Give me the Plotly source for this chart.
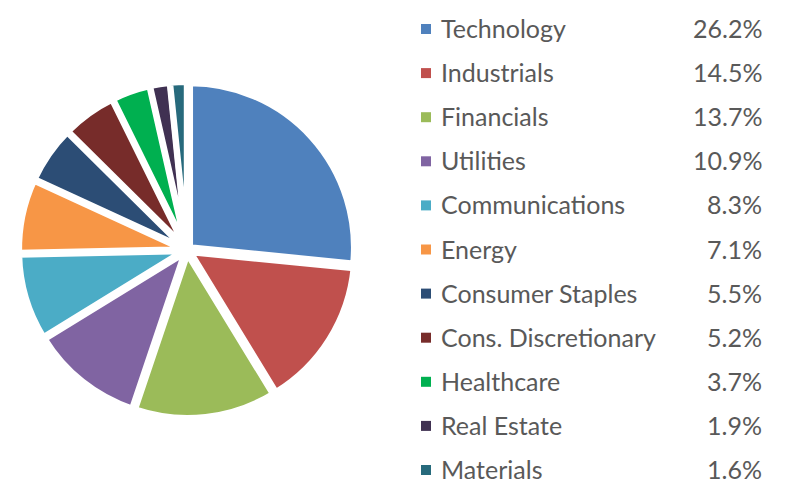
import plotly.graph_objects as go

sectors = ["Technology", "Industrials", "Financials", "Utilities", "Communications",
           "Energy", "Consumer Staples", "Cons. Discretionary", "Healthcare",
           "Real Estate", "Materials"]
weights = [26.2, 14.5, 13.7, 10.9, 8.3, 7.1, 5.5, 5.2, 3.7, 1.9, 1.6]
colors = ["#4F81BD", "#C0504D", "#9BBB59", "#8064A2", "#4BACC6", "#F79646",
          "#2C4D75", "#772C2A", "#00B050", "#403152", "#276A7C"]

W, H = 785, 500
fig = go.Figure(go.Pie(
    labels=sectors, values=weights, sort=False, direction="clockwise", rotation=0,
    marker=dict(colors=colors, line=dict(width=6, color="white")),
    pull=[0.025] * len(weights), textinfo="none", hoverinfo="label+percent",
    domain=dict(x=[15 / W, 359 / W], y=[1 - 418 / H, 1 - 82 / H]),
    showlegend=False,
))

font = dict(family="Lato, Carlito, Calibri, sans-serif", size=25, color="#595959")
row0, step = 29, 44.1
annotations = []
shapes = []
for i, (name, val, col) in enumerate(zip(sectors, weights, colors)):
    yc = row0 + i * step
    shapes.append(dict(type="rect", xref="paper", yref="paper",
                       x0=421 / W, x1=431 / W, y0=1 - (yc + 5) / H, y1=1 - (yc - 5) / H,
                       fillcolor=col, line=dict(width=0)))
    annotations.append(dict(x=439 / W, y=1 - (yc - 1) / H, xref="paper", yref="paper",
                            text=name, showarrow=False, xanchor="left", yanchor="middle",
                            font=font))
    annotations.append(dict(x=764 / W, y=1 - (yc - 1) / H, xref="paper", yref="paper",
                            text=f"{val:.1f}%", showarrow=False, xanchor="right",
                            yanchor="middle", font=font))

fig.update_layout(width=W, height=H, margin=dict(l=0, r=0, t=0, b=0),
                  paper_bgcolor="white", plot_bgcolor="white",
                  annotations=annotations, shapes=shapes)
fig.write_html("out.html", config={"displayModeBar": False},
               post_script="document.body.style.margin='0';")
